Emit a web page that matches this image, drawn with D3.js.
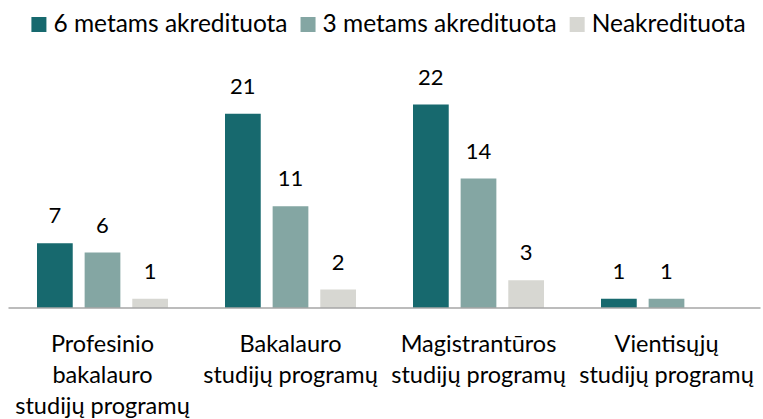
<!DOCTYPE html>
<html>
<head>
<meta charset="utf-8">
<script src="https://cdn.jsdelivr.net/npm/d3@7"></script>
<style>
  body { margin: 0; background: #fff; }
  text { font-family: Lato, "Open Sans", sans-serif; fill: #000; }
</style>
</head>
<body>
<svg id="chart" width="763" height="419"></svg>
<script>
"use strict";

// data
const categories = [
  "Profesinio\nbakalauro\nstudijų programų",
  "Bakalauro\nstudijų programų",
  "Magistrantūros\nstudijų programų",
  "Vientisųjų\nstudijų programų"
];
const seriesNames = ["6 metams akredituota", "3 metams akredituota", "Neakredituota"];
const six = [7, 21, 22, 1];
const three = [6, 11, 14, 1];
const none = [1, 2, 3, null];
const colors = ["#17696e", "#84a6a3", "#d7d7d2"];

let series = [six, three, none],
  svg = d3.select("#chart"),
  margin = {left: 8.5, right: 2.5, baseline: 308},
  width = 763 - margin.left - margin.right,
  x1 = d3.scaleBand().domain(d3.range(seriesNames.length)),
  y = d3.scaleLinear().domain([0, 25]).range([margin.baseline, margin.baseline - 231.25])
;

// groups are 131px wide, centred in each 188px slot
let slot = width / categories.length;
let groupW = 131;
function groupLeft(i){ return margin.left + slot * i + (slot - groupW) / 2; }
x1.range([0, groupW]).paddingInner(0.25);

let g = svg.append("g");

series.forEach(function(vals, s){
  let data = vals.map(function(v, i){ return {v: v, i: i}; }).filter(function(d){ return d.v != null; });

  g.selectAll(".bar-" + s)
    .data(data)
    .enter()
    .append("rect")
    .attr("class", "bar-" + s)
    .attr("x", function(d){ return groupLeft(d.i) + x1(s); })
    .attr("y", function(d){ return y(d.v); })
    .attr("width", x1.bandwidth())
    .attr("height", function(d){ return y(0) - y(d.v); })
    .attr("fill", colors[s]);

  g.selectAll(".lbl-" + s)
    .data(data)
    .enter()
    .append("text")
    .attr("x", function(d){ return groupLeft(d.i) + x1(s) + x1.bandwidth() / 2; })
    .attr("y", function(d){ return y(d.v) - 20; })
    .attr("text-anchor", "middle")
    .style("font-size", "22px")
    .text(function(d){ return d.v; });
});

// baseline
g.append("line")
  .attr("x1", margin.left)
  .attr("x2", margin.left + width)
  .attr("y1", y(0))
  .attr("y2", y(0))
  .attr("stroke", "#a6a6a6")
  .attr("stroke-width", 1.3);

// category labels
categories.forEach(function(c, i){
  let t = g.append("text")
    .attr("text-anchor", "middle")
    .style("font-size", "23.5px");
  c.split("\n").forEach(function(line, k){
    t.append("tspan")
      .attr("x", margin.left + slot * i + slot / 2)
      .attr("y", 352 + k * 31)
      .text(line);
  });
});

// legend
let legend = svg.append("g"),
  lx = 0;
seriesNames.forEach(function(name, s){
  legend.append("rect")
    .attr("x", lx)
    .attr("y", 17)
    .attr("width", 15)
    .attr("height", 15)
    .attr("fill", colors[s]);
  let txt = legend.append("text")
    .attr("x", lx + 22)
    .attr("y", 32)
    .style("font-size", "24.5px")
    .text(name);
  lx += 22 + txt.node().getComputedTextLength() + 13;
});
let legendW = lx - 13;
legend.attr("transform", "translate(" + (388.5 - legendW / 2) + ",0)");
</script>
</body>
</html>
